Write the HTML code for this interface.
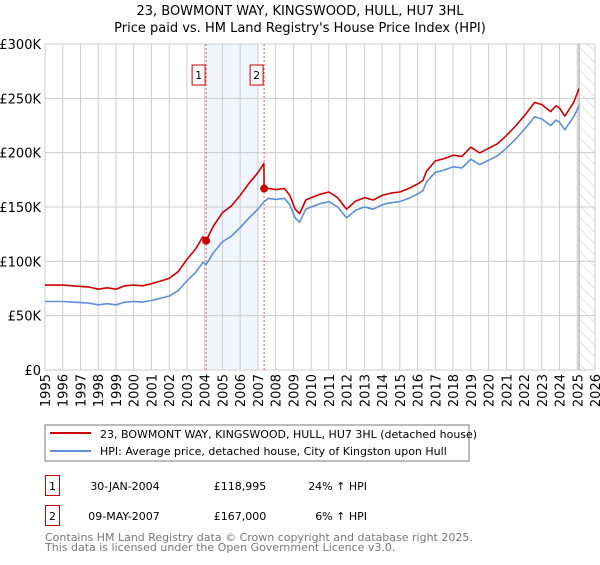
<!DOCTYPE html>
<html><head><meta charset="utf-8"><style>
body{margin:0;background:#fff;font-family:"Liberation Sans","DejaVu Sans",sans-serif}
svg text{font-family:"DejaVu Sans","Liberation Sans",sans-serif}
</style></head><body>
<svg id="c" width="600" height="560" viewBox="0 0 600 560" xmlns="http://www.w3.org/2000/svg">
<defs><pattern id="hatch" width="8" height="8" patternUnits="userSpaceOnUse" patternTransform="rotate(-45)"><line x1="0" y1="0" x2="0" y2="8" stroke="#ccc" stroke-width="1"/></pattern></defs>
<text x="300" y="15" text-anchor="middle" font-size="13" fill="#000">23, BOWMONT WAY, KINGSWOOD, HULL, HU7 3HL</text>
<text x="300" y="32" text-anchor="middle" font-size="13" fill="#000">Price paid vs. HM Land Registry's House Price Index (HPI)</text>
<g id="grid"></g><g id="marks"></g><g id="axes"></g>
<rect x="45" y="425" width="424" height="36" fill="#fff" stroke="#777"/>
<line x1="50" y1="433" x2="91" y2="433" stroke="#cc0000" stroke-width="2"/>
<text x="100" y="438" font-size="11">23, BOWMONT WAY, KINGSWOOD, HULL, HU7 3HL (detached house)</text>
<line x1="50" y1="451" x2="91" y2="451" stroke="#5b8fd6" stroke-width="2"/>
<text x="100" y="455" font-size="11">HPI: Average price, detached house, City of Kingston upon Hull</text>
<g>
<rect x="45.5" y="475.5" width="14" height="20" fill="#fff" stroke="#cc0000"/><text x="52.5" y="490" text-anchor="middle" font-size="11">1</text>
<text x="125" y="490" text-anchor="middle" font-size="11">30-JAN-2004</text>
<text x="240" y="490" text-anchor="middle" font-size="11">£118,995</text>
<text x="367" y="490" text-anchor="end" font-size="11">24% ↑ HPI</text></g>
<g>
<rect x="45.5" y="505.5" width="14" height="20" fill="#fff" stroke="#cc0000"/><text x="52.5" y="520" text-anchor="middle" font-size="11">2</text>
<text x="124" y="520" text-anchor="middle" font-size="11">09-MAY-2007</text>
<text x="240" y="520" text-anchor="middle" font-size="11">£167,000</text>
<text x="367" y="520" text-anchor="end" font-size="11">6% ↑ HPI</text></g>
<text x="45" y="541" font-size="11" fill="#777">Contains HM Land Registry data © Crown copyright and database right 2025.</text>
<text x="45" y="551" font-size="11" fill="#777">This data is licensed under the Open Government Licence v3.0.</text>
</svg>
<script>
const hpiDates=[1995,1996,1997,1997.5,1998,1998.5,1999,1999.5,2000,2000.5,2001,2001.5,2002,2002.5,2003,2003.5,2003.9,2004.08,2004.5,2005,2005.5,2006,2006.5,2007,2007.35,2007.6,2008,2008.5,2008.8,2009.1,2009.35,2009.7,2010,2010.5,2011,2011.5,2012,2012.5,2013,2013.5,2014,2014.5,2015,2015.5,2016,2016.3,2016.5,2017,2017.5,2018,2018.5,2019,2019.5,2020,2020.5,2021,2021.5,2022,2022.6,2023,2023.5,2023.8,2024,2024.3,2024.8,2025.1];
const hpiValues=[63,63,62,61.5,60,61,60,62.5,63,62.5,64,66,68,73,82,90,99,97,108,118,123,131,140,148,155,158,157,158,152,140,136,148,150,153,155,150,140,147,150,148,152,154,155,158,162,165,173,182,184,187,186,194,189,193,197,204,212,221,233,231,225,230,228,221,233,243];
const priceDates=[1995,1996,1997,1997.5,1998,1998.5,1999,1999.5,2000,2000.5,2001,2001.5,2002,2002.5,2003,2003.5,2003.9,2004.08,2004.5,2005,2005.5,2006,2006.5,2007,2007.34,2007.35,2007.6,2008,2008.5,2008.8,2009.1,2009.35,2009.7,2010,2010.5,2011,2011.5,2012,2012.5,2013,2013.5,2014,2014.5,2015,2015.5,2016,2016.3,2016.5,2017,2017.5,2018,2018.5,2019,2019.5,2020,2020.5,2021,2021.5,2022,2022.6,2023,2023.5,2023.8,2024,2024.3,2024.8,2025.1];
const priceValues=[78.1,78.1,76.9,76.3,74.4,75.6,74.4,77.5,78.1,77.5,79.4,81.8,84.3,90.5,101.7,111.6,122.8,119,132.5,144.8,150.9,160.7,171.8,181.6,190,167,167,166,167,160.7,148,143.8,156.4,158.6,161.7,163.8,158.6,148,155.4,158.6,156.4,160.7,162.8,163.8,167,171.2,174.4,182.9,192.4,194.5,197.7,196.6,205,199.8,204,208.2,215.6,224.1,233.6,246.3,244.2,237.8,243.1,241,233.6,246.3,259];
const saleDates=[2004.08,2007.35];
const saleValues=[118.995,167];
const saleLabels=["1","2"];
const yTicks=[0,50,100,150,200,250,300];
const yTickLabels=["£0","£50K","£100K","£150K","£200K","£250K","£300K"];
const xYears=[1995,1996,1997,1998,1999,2000,2001,2002,2003,2004,2005,2006,2007,2008,2009,2010,2011,2012,2013,2014,2015,2016,2017,2018,2019,2020,2021,2022,2023,2024,2025,2026];

const X0=45,X1=595,Y0=370,Y1=44;
const xs=d=>X0+(d-1995)/(2026-1995)*(X1-X0);
const ys=v=>Y0-v/300*(Y0-Y1);
const NS="http://www.w3.org/2000/svg";
function mk(p,t,a){const e=document.createElementNS(NS,t);for(const k in a)e.setAttribute(k,a[k]);p.appendChild(e);return e;}
const grid=document.getElementById('grid'),marks=document.getElementById('marks'),axes=document.getElementById('axes');
// shaded period & hatch
let sh=mk(grid,'rect',{x:xs(saleDates[0]),y:Y1,width:xs(2007.0)-xs(saleDates[0]),height:Y0-Y1,fill:'#eef3fc',opacity:0.8});


let hz=mk(grid,'rect',{x:xs(2025.1),y:Y1,width:X1-xs(2025.1),height:Y0-Y1,fill:'url(#hatch)'});


yTicks.forEach((t,i)=>{
 const l=mk(grid,'line',{x1:X0,x2:X1,y1:ys(t),y2:ys(t),stroke:'#ccc','stroke-width':1});
 
 
 const tx=mk(axes,'text',{x:X0-4,y:ys(t)+5,'text-anchor':'end','font-size':13});
 tx.textContent=yTickLabels[i];
 
 
});
xYears.forEach(yr=>{
 const l=mk(grid,'line',{x1:xs(yr),x2:xs(yr),y1:Y1,y2:Y0,stroke:'#ccc','stroke-width':1});
 
 
 const tx=mk(axes,'text',{x:0,y:0,'text-anchor':'end','font-size':13,transform:`translate(${xs(yr)+5},374) rotate(-90)`});
 tx.textContent=yr;
 
 
});
let cl=mk(grid,'line',{x1:xs(2025.1),x2:xs(2025.1),y1:Y1,y2:Y0,stroke:'#999','stroke-width':1});


saleDates.forEach((d,i)=>{
 const l=mk(marks,'line',{x1:xs(d),x2:xs(d),y1:Y1,y2:Y0,stroke:'#e06060','stroke-width':1,'stroke-dasharray':'2,2'});
 
 
 const b=mk(marks,'rect',{x:xs(d)-14,y:65,width:13,height:20,fill:'#fff',stroke:'#cc0000'});
 
 
 const t=mk(marks,'text',{x:xs(d)-7.5,y:79,'text-anchor':'middle','font-size':11});
 t.textContent=saleLabels[i];
 
 
});
function line(ds,vs,col,name){
 const p=mk(marks,'path',{d:ds.map((d,i)=>(i?'L':'M')+xs(d).toFixed(1)+','+ys(vs[i]).toFixed(1)).join(''),fill:'none',stroke:col,'stroke-width':1.6,'stroke-linejoin':'round'});
 
 
}
line(hpiDates,hpiValues,'#5b8fd6','hpi-line');
line(priceDates,priceValues,'#cc0000','price-paid-line');
saleDates.forEach((d,i)=>{
 const c=mk(marks,'circle',{cx:xs(d),cy:ys(saleValues[i]),r:4,fill:'#cc0000'});
 
 
});
</script>
</body></html>
